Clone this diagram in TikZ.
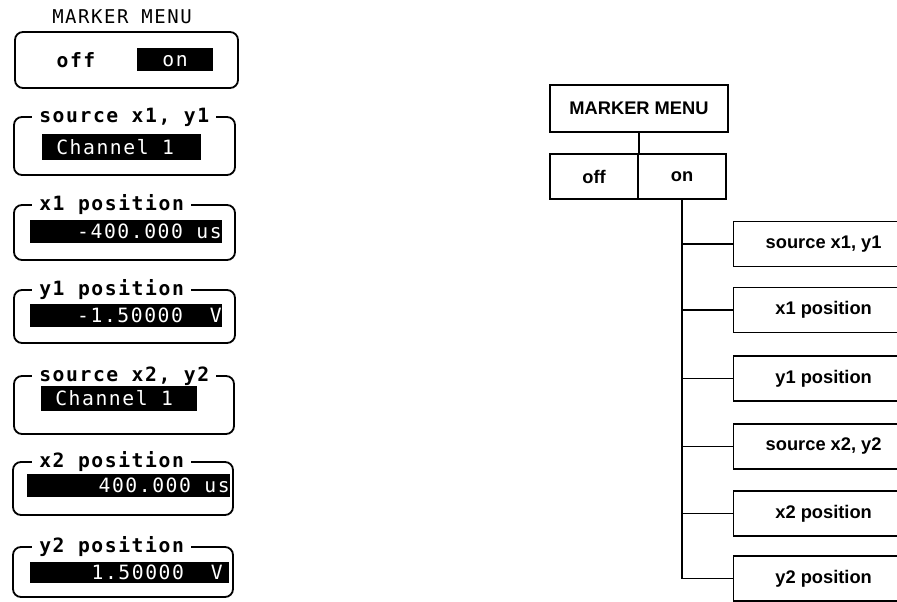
\documentclass[tikz,border=0pt]{standalone}
\usepackage{fontspec}
\setmainfont{Liberation Sans}
\newfontfamily\hpfont{DejaVu Sans Mono}[LetterSpace=8]
\usetikzlibrary{positioning}

\begin{document}
\begin{tikzpicture}[x=0.025cm, y=-0.025cm,
  panel/.style={draw, line width=1.3pt, rounded corners=0.2cm},
  bar/.style={fill=black},
  ttl/.style={fill=white, inner xsep=5pt, inner ysep=1pt, anchor=west, font=\hpfont\bfseries\fontsize{14}{14}\selectfont},
  val/.style={text=white, inner sep=0pt, font=\hpfont\fontsize{14}{14}\selectfont},
  menu/.style={draw, line width=0.9pt, minimum width=4.5cm, minimum height=1.125cm, inner sep=0pt, font=\bfseries\fontsize{13}{14}\selectfont},
  tree/.style={line width=0.9pt}
]
  \useasboundingbox (0,0) rectangle (897,602);
  \clip (0,0) rectangle (897,602);

  % Screen menu
  \node[font=\hpfont\fontsize{13.5}{14}\selectfont] (lmenu) at (122,17) {MARKER MENU};
  \draw[panel] (15,32) rectangle (238,88);
  \node[font=\hpfont\bfseries\fontsize{14}{14}\selectfont] (loff) at (76,60) {off};
  \fill[bar] (137,48) rectangle (213,71);
  \node[val] (lon) at (175,61) {on};

  \draw[panel] (14,117) rectangle (235,175);
  \node[ttl] (lsrc1) at (32,117) {source x1, y1};
  \fill[bar] (42,134) rectangle (201,160);
  \node[val, anchor=west] (lch1) at (56,147) {Channel 1};

  \draw[panel] (14,205) rectangle (235,260);
  \node[ttl] (lx1) at (32,205) {x1 position};
  \fill[bar] (30,220) rectangle (222,243);
  \node[val, anchor=east] (lx1val) at (222,231.5) {-400.000 us};

  \draw[panel] (14,290) rectangle (235,343);
  \node[ttl] (ly1) at (32,290) {y1 position};
  \fill[bar] (30,304) rectangle (222,327);
  \node[val, anchor=east] (ly1val) at (222,315.5) {-1.50000~~V};

  \draw[panel] (14,376) rectangle (234,434);
  \node[ttl] (lsrc2) at (32,376) {source x2, y2};
  \fill[bar] (41,386) rectangle (197,411);
  \node[val, anchor=west] (lch2) at (55,398.5) {Channel 1};

  \draw[panel] (13,462) rectangle (233,515);
  \node[ttl] (lx2) at (32,462) {x2 position};
  \fill[bar] (27,474) rectangle (230,497);
  \node[val, anchor=east] (lx2val) at (230,485.5) {400.000 us};

  \draw[panel] (13,547) rectangle (233,597);
  \node[ttl] (ly2) at (32,547) {y2 position};
  \fill[bar] (30,562) rectangle (229,583);
  \node[val, anchor=east] (ly2val) at (223,572.5) {1.50000~~V};

  % Menu tree
  \node[menu, minimum width=4.45cm, minimum height=1.175cm] (rmenu) at (639,108.5) {MARKER MENU};
  \node[menu, minimum width=2.2cm] (roff) at (594,176.5) {off};
  \node[menu, minimum width=2.2cm, right=-0.9pt of roff] (ron) {on};

  \node[menu, anchor=west] (rsrc1) at (733,244) {source x1, y1};
  \node[menu, anchor=west] (rx1) at (733,310) {x1 position};
  \node[menu, anchor=west] (ry1) at (733,378.5) {y1 position};
  \node[menu, anchor=west] (rsrc2) at (733,446.5) {source x2, y2};
  \node[menu, anchor=west] (rx2) at (733,513.5) {x2 position};
  \node[menu, anchor=west] (ry2) at (733,578.5) {y2 position};

  \draw[tree] (rmenu) -- (rmenu |- roff.north);
  \draw[tree] (ron.south) |- (ry2.west);
  \foreach \n in {rsrc1, rx1, ry1, rsrc2, rx2}
    \draw[tree] (ron.south |- \n.west) -- (\n.west);
\end{tikzpicture}
\end{document}
